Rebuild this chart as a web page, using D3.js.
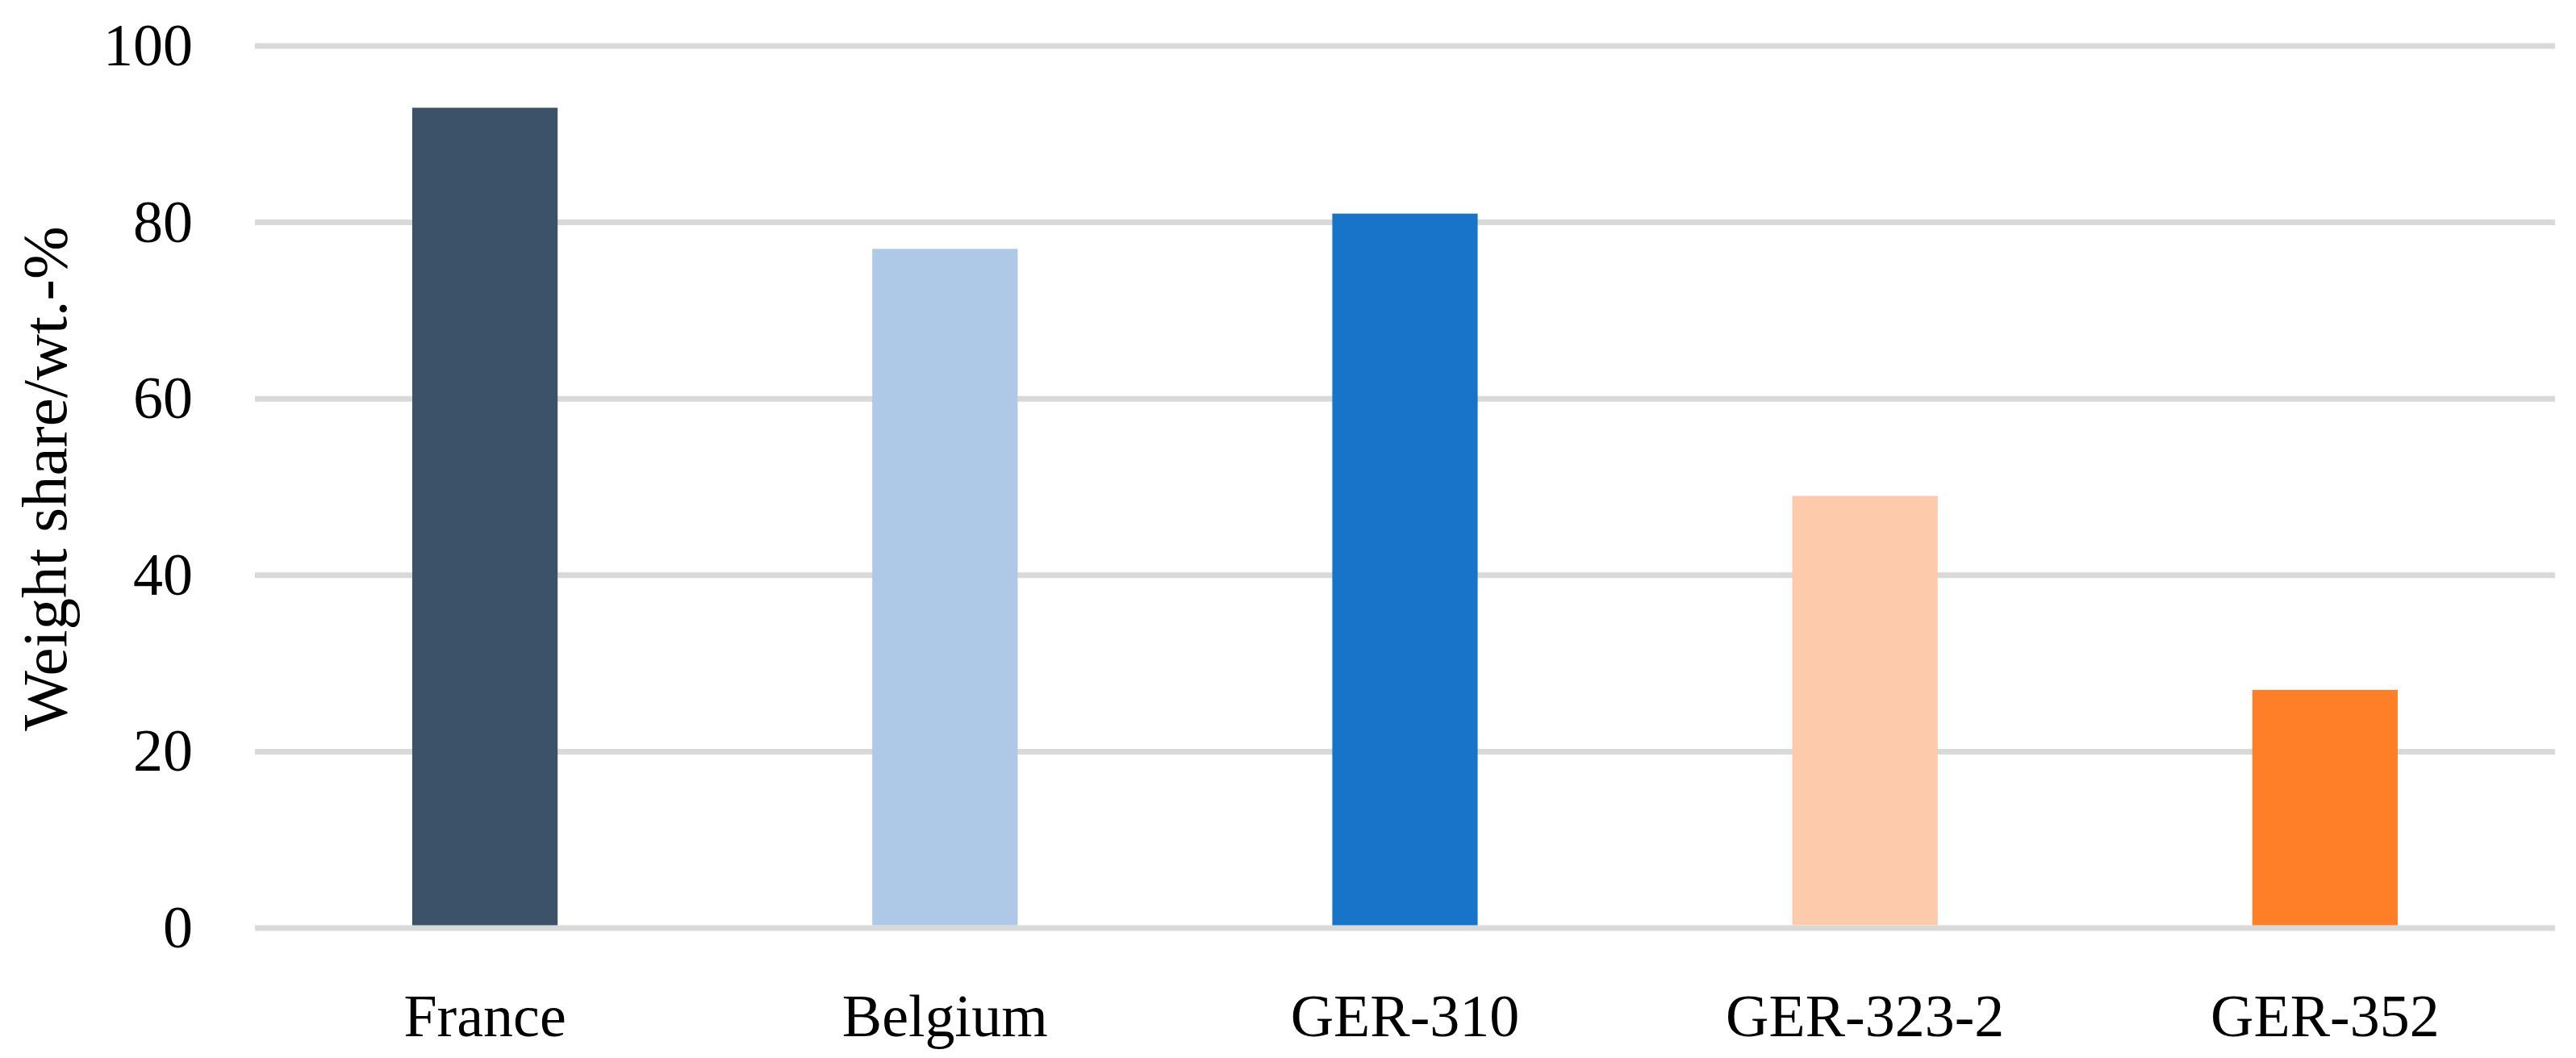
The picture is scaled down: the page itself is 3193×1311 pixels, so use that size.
<!DOCTYPE html>
<html>
<head>
<meta charset="utf-8">
<script src="https://cdn.jsdelivr.net/npm/d3@7"></script>
<style>
  html, body { margin: 0; padding: 0; background: #fff; }
  svg text { font-family: "Palatino Linotype", "Book Antiqua", Palatino, "Liberation Serif", "DejaVu Serif", serif; fill: #000; }
</style>
</head>
<body>
<svg id="chart" width="3193" height="1311"></svg>
<script>
// chart data
const categories = ["France", "Belgium", "GER-310", "GER-323-2", "GER-352"];
const values = [93, 77, 81, 49, 27];
const colors = ["#3c5269", "#aec8e8", "#1874c8", "#fdcbab", "#fe7f28"];
const yTicks = [0, 20, 40, 60, 80, 100];
const yLabel = "Weight share/wt.-%";

const svg = d3.select("#chart");
const width = 3193, height = 1311;
const margin = { top: 57, right: 26, bottom: 161, left: 316 };

const x = d3.scaleBand()
    .domain(categories)
    .range([margin.left, width - margin.right])
    .paddingInner(0.684)
    .paddingOuter(0.342);

const y = d3.scaleLinear()
    .domain([0, 100])
    .range([height - margin.bottom, margin.top]);

// gridlines
svg.append("g")
    .selectAll("line")
    .data(yTicks)
    .join("line")
    .attr("x1", margin.left)
    .attr("x2", width - margin.right)
    .attr("y1", d => y(d))
    .attr("y2", d => y(d))
    .attr("stroke", "#d9d9d9")
    .attr("stroke-width", 7);

// bars
svg.append("g")
    .selectAll("rect")
    .data(categories)
    .join("rect")
    .attr("x", d => x(d))
    .attr("width", x.bandwidth())
    .attr("y", (d, i) => y(values[i]))
    .attr("height", (d, i) => y(0) - y(values[i]) - 3.5)
    .attr("fill", (d, i) => colors[i]);

// y tick labels
svg.append("g")
    .selectAll("text")
    .data(yTicks)
    .join("text")
    .attr("x", 239)
    .attr("y", d => y(d) + 24)
    .attr("text-anchor", "end")
    .style("font-size", "74px")
    .text(d => d);

// x labels
svg.append("g")
    .selectAll("text")
    .data(categories)
    .join("text")
    .attr("x", d => x(d) + x.bandwidth() / 2)
    .attr("y", 1284)
    .attr("text-anchor", "middle")
    .style("font-size", "74px")
    .text(d => d);

// y axis title
svg.append("text")
    .attr("transform", "translate(82,593) rotate(-90)")
    .attr("text-anchor", "middle")
    .style("font-size", "79px")
    .text(yLabel);
</script>
</body>
</html>
